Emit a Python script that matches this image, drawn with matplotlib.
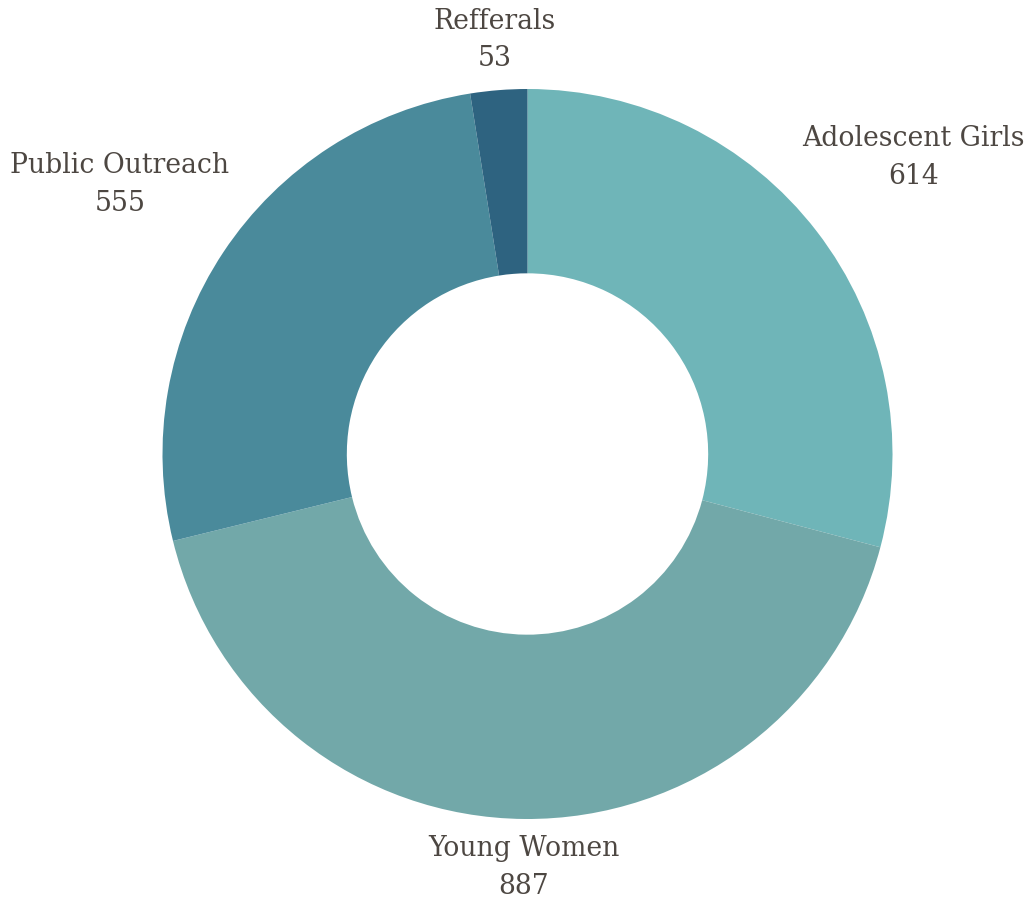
import numpy as np
import matplotlib
matplotlib.use("Agg")
import matplotlib.pyplot as plt

# Dados do gráfico
categories = ["Adolescent Girls", "Young Women", "Public Outreach", "Refferals"]
values = [614, 887, 555, 53]
colors = ["#6FB5B8", "#72A8A9", "#4A8A9B", "#2E6380"]

# distância do rótulo (em múltiplos do raio externo) para cada fatia
label_dist = [1.335, 1.13, 1.34, 1.14]

W, H = 1032, 904
cx, cy = 527.5, H - 455
R = 365
inner = 0.495

fig = plt.figure(figsize=(W / 100, H / 100), dpi=100)
ax = fig.add_axes([0, 0, 1, 1])
ax.set_xlim(0, W)
ax.set_ylim(0, H)
ax.set_aspect("equal")
ax.axis("off")

wedges, _ = ax.pie(values, colors=colors, startangle=90, counterclock=False,
                   center=(cx, cy), radius=R,
                   wedgeprops=dict(width=R * (1 - inner), linewidth=0))
ax.set_xlim(0, W)
ax.set_ylim(0, H)

total = sum(values)
start = 90.0
for name, v, d in zip(categories, values, label_dist):
    ang = np.deg2rad(start - v / total * 180)
    start -= v / total * 360
    x = cx + R * d * np.cos(ang)
    y = cy + R * d * np.sin(ang)
    ax.text(x, y, f"{name}\n{v}", ha="center", va="center",
            fontsize=19.2, family="DejaVu Serif", color="#4D4742",
            linespacing=1.5)

fig.savefig("out.png", dpi=100)
